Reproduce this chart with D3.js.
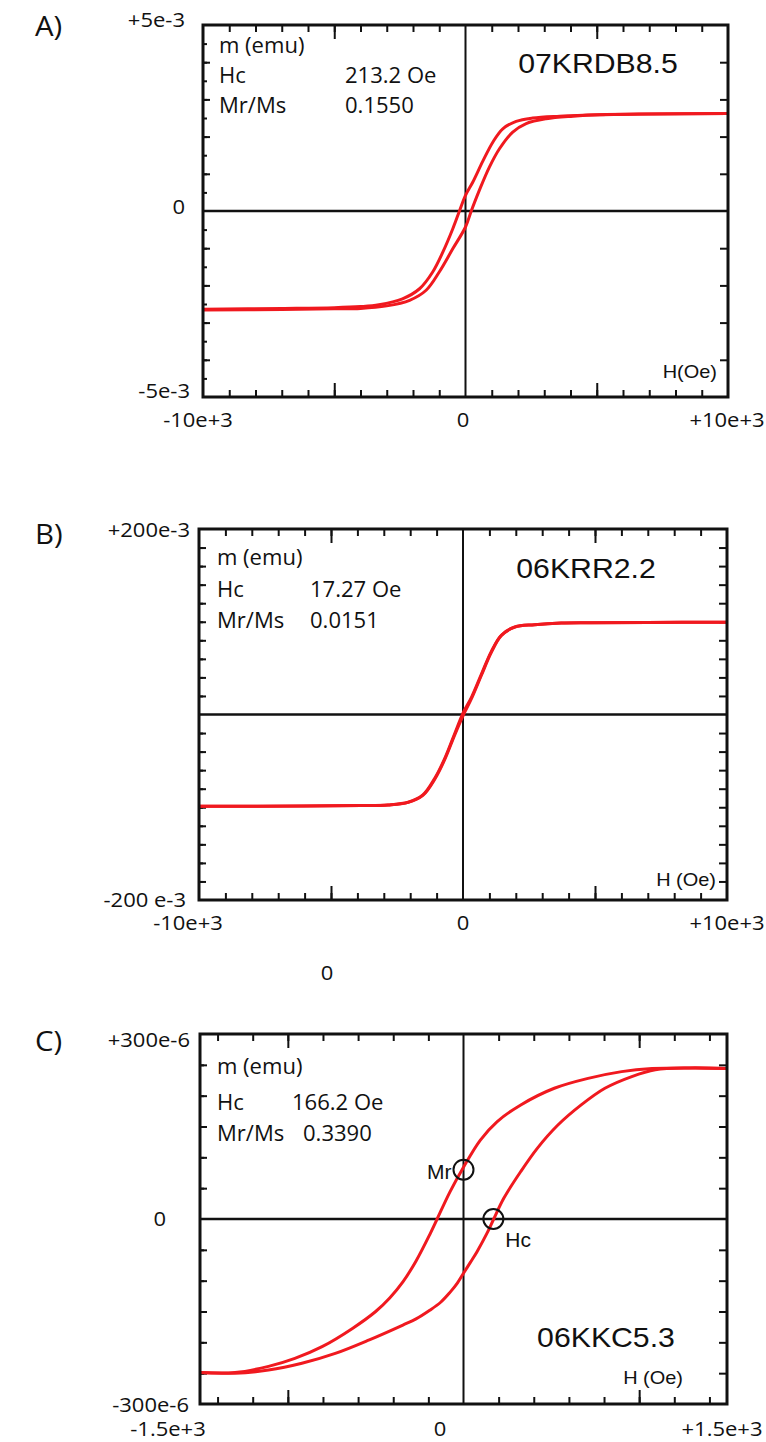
<!DOCTYPE html>
<html>
<head>
<meta charset="utf-8">
<script src="https://cdn.jsdelivr.net/npm/d3@7"></script>
<style>
  body { margin: 0; background: #fff; }
  svg { display: block; }
</style>
</head>
<body>
<div id="chart"></div>
<script>
// ---- data ----
// H in Oe; m in axis units (A, B: 1e-3 emu, C: 1e-6 emu)
var panelLetters = ["A)", "B)", "C)"];
var sampleNames = ["07KRDB8.5", "06KRR2.2", "06KKC5.3"];
var hcTexts = ["213.2 Oe", "17.27 Oe", "166.2 Oe"];
var ratioTexts = ["0.1550", "0.0151", "0.3390"];
var fieldLabels = ["H(Oe)", "H (Oe)", "H (Oe)"];
var yTickLabels = [["+5e-3", "0", "-5e-3"], ["+200e-3", "", "-200 e-3"], ["+300e-6", "0", "-300e-6"]];
var xTickLabels = [["-10e+3", "0", "+10e+3"], ["-10e+3", "0", "+10e+3"], ["-1.5e+3", "0", "+1.5e+3"]];
var hDomains = [[-10000, 10000], [-10000, 10000], [-1500, 1500]];
var mDomains = [[-5, 5], [-200, 200], [-300, 300]];

var aDescending = [[-10000, -2.64], [-7000, -2.62], [-5000, -2.60], [-4000, -2.57], [-3300, -2.52], [-2400, -2.36],
  [-1750, -2.09], [-1250, -1.64], [-860, -1.10], [-480, -0.47], [-230, 0], [0, 0.42], [280, 0.78], [660, 1.34],
  [1040, 1.85], [1420, 2.21], [1930, 2.41], [2560, 2.50], [3580, 2.55], [5100, 2.59], [7000, 2.61], [10000, 2.62]];
var aAscending = [[-10000, -2.66], [-7000, -2.65], [-5000, -2.63], [-4000, -2.62], [-3000, -2.55], [-2130, -2.40],
  [-1500, -2.13], [-1000, -1.64], [-480, -1.01], [0, -0.43], [220, 0], [530, 0.56], [910, 1.18], [1300, 1.68],
  [1800, 2.12], [2310, 2.35], [3070, 2.48], [4090, 2.55], [5100, 2.59], [7000, 2.61], [10000, 2.62]];

var bDescending = [[-10000, -99], [-6000, -98.6], [-3850, -98.2], [-2840, -97.5], [-2080, -94.6], [-1520, -86.7],
  [-1070, -68.8], [-690, -47.3], [-320, -21], [0, 1.5], [320, 18.5], [690, 43], [1070, 67.8], [1450, 85.5],
  [1960, 94.3], [2710, 96.8], [3720, 98.6], [4860, 98.9], [7000, 99.3], [10000, 99.5]];
var bAscending = [[-10000, -99], [-6000, -98.6], [-3850, -98.2], [-2840, -97.5], [-2080, -94.8], [-1520, -87.2],
  [-1070, -69.8], [-690, -48.5], [-320, -22.5], [0, -1.5], [320, 17], [690, 41.8], [1070, 66.8], [1450, 85],
  [1960, 94.2], [2710, 96.8], [3720, 98.6], [4860, 98.9], [7000, 99.3], [10000, 99.5]];

var cDescending = [[-1500, -249], [-1300, -249], [-1110, -239], [-960, -226], [-805, -207], [-630, -177],
  [-500, -150], [-420, -128], [-345, -102], [-270, -68], [-190, -24], [-150, 0], [-77, 44], [0, 84], [96, 128],
  [192, 158], [326, 185], [517, 212], [709, 228], [900, 239], [1073, 244], [1284, 245], [1500, 244]];
var cAscending = [[-1500, -249], [-1300, -250], [-1110, -245], [-920, -234], [-730, -218], [-536, -196],
  [-345, -172], [-270, -162], [-192, -148], [-130, -135], [-77, -119], [-35, -104], [0, -88], [40, -70], [77, -53],
  [134, -23], [172, 0], [230, 34], [326, 77], [421, 115], [536, 152], [670, 185], [805, 212], [958, 231],
  [1092, 242], [1284, 245], [1500, 244]];

var loops = [[aDescending, aAscending], [bDescending, bAscending], [cDescending, cAscending]];
// marked points on panel C: [H, m, label]
var cMarks = [[0, 80, "Mr"], [170, 0, "Hc"]];

// ---- layout ----
var W = 766, H = 1442;
var red = "#f0191f";
var tickFont = "'Open Sans', sans-serif";
var nameFont = "'Liberation Sans', Arial, sans-serif";

var layout = [
  { box: [203, 25, 728, 397], letterY: 36, yLab: [[185, 2], [185, 3], [190, 1]], xLabX: [198, 463, 727], xLabY: 427,
    info: [219, 345, 345, 53, 83, 113], nameX: 598, nameY: 73, fieldY: 378, fieldX: 717 },
  { box: [199, 529, 727, 900], letterY: 544, yLab: [[190, 8], null, [186, 7]], xLabX: [188, 463, 727], xLabY: 930,
    info: [217, 310, 310, 565, 597, 628], nameX: 586, nameY: 578, fieldY: 886, fieldX: 716 },
  { box: [200, 1034, 727, 1404], letterY: 1051, yLab: [[190, 13], [166, 7], [189, 8]], xLabX: [168, 440, 722], xLabY: 1436,
    info: [217, 292, 303, 1074, 1110, 1141], nameX: 606, nameY: 1347, fieldY: 1384, fieldX: 683 }
];

var svg = d3.select("#chart").append("svg")
  .attr("width", W)
  .attr("height", H);

function addText(g, x, y, str, size, family, anchor, sx) {
  return g.append("text")
    .attr("transform", "translate(" + x + "," + y + ") scale(" + (sx || 1) + ",1)")
    .attr("font-family", family)
    .attr("font-size", size + "px")
    .attr("text-anchor", anchor || "start")
    .attr("fill", "#111")
    .text(str);
}

function inwardTicks(g, axisFn, scale, values, len, transform) {
  var ax = g.append("g")
    .attr("transform", transform)
    .call(axisFn(scale).tickValues(values).tickSize(-len).tickFormat(""));
  ax.select(".domain").remove();
  ax.selectAll("line").attr("stroke", "#111").attr("stroke-width", 2);
}

// tick counts passed to scale.ticks() per panel
var tickCounts = [
  { xMinor: 20, xMajor: 4, leftMinor: 20, leftMid: 10, right: 10 },
  { xMinor: 20, xMajor: 4, leftMinor: 20, leftMid: 20, right: 20 },
  { xMinor: 15, xMajor: 3, leftMinor: 12, leftMid: 12, right: 12 }
];

layout.forEach(function(L, i) {
  var b = L.box;
  var T = tickCounts[i];
  var x = d3.scaleLinear().domain(hDomains[i]).range([b[0], b[2]]);
  var y = d3.scaleLinear().domain(mDomains[i]).range([b[3], b[1]]);
  var g = svg.append("g");
  var noEdge = function(s) {
    return function(v) { return v !== s.domain()[0] && v !== s.domain()[1] && v !== 0; };
  };

  // ticks (inward on all four sides)
  var xMinor = x.ticks(T.xMinor).filter(noEdge(x));
  var xMajor = x.ticks(T.xMajor).filter(noEdge(x));
  inwardTicks(g, d3.axisBottom, x, xMinor, 7, "translate(0," + b[3] + ")");
  inwardTicks(g, d3.axisBottom, x, xMajor, 14, "translate(0," + b[3] + ")");
  inwardTicks(g, d3.axisTop, x, xMinor, 7, "translate(0," + b[1] + ")");
  inwardTicks(g, d3.axisTop, x, xMajor, 14, "translate(0," + b[1] + ")");
  inwardTicks(g, d3.axisLeft, y, y.ticks(T.leftMinor).filter(noEdge(y)), 4, "translate(" + b[0] + ",0)");
  inwardTicks(g, d3.axisLeft, y, y.ticks(T.leftMid).filter(noEdge(y)), 7, "translate(" + b[0] + ",0)");
  inwardTicks(g, d3.axisRight, y, y.ticks(T.right).filter(noEdge(y)), 8, "translate(" + b[2] + ",0)");

  // zero lines
  g.append("line")
    .attr("x1", b[0]).attr("x2", b[2])
    .attr("y1", y(0)).attr("y2", y(0))
    .attr("stroke", "#111").attr("stroke-width", 2.5);
  g.append("line")
    .attr("x1", x(0)).attr("x2", x(0))
    .attr("y1", b[1]).attr("y2", b[3])
    .attr("stroke", "#111").attr("stroke-width", 2);

  // hysteresis branches
  var line = d3.line()
    .x(function(d) { return x(d[0]); })
    .y(function(d) { return y(d[1]); })
    .curve(d3.curveCatmullRom.alpha(0.5));
  g.selectAll("path.branch")
    .data(loops[i])
    .enter()
    .append("path")
    .attr("class", "branch")
    .attr("d", line)
    .attr("fill", "none")
    .attr("stroke", red)
    .attr("stroke-width", 3);

  // frame
  g.append("rect")
    .attr("x", b[0]).attr("y", b[1])
    .attr("width", b[2] - b[0]).attr("height", b[3] - b[1])
    .attr("fill", "none")
    .attr("stroke", "#111")
    .attr("stroke-width", 3);

  // y tick labels (top, zero, bottom)
  var yVals = [mDomains[i][1], 0, mDomains[i][0]];
  yTickLabels[i].forEach(function(t, k) {
    if (!t || !L.yLab[k]) return;
    addText(svg, L.yLab[k][0], y(yVals[k]) + L.yLab[k][1], t, 20, tickFont, "end", 1.1);
  });
  // x tick labels
  xTickLabels[i].forEach(function(t, k) {
    addText(svg, L.xLabX[k], L.xLabY, t, 20, tickFont, "middle", 1.1);
  });

  // panel letter
  addText(svg, 35, L.letterY, panelLetters[i], 28, tickFont, "start", 1.05);

  // info block
  addText(svg, L.info[0], L.info[3], "m (emu)", 21, tickFont, "start", 1.05);
  addText(svg, L.info[0], L.info[4], "Hc", 21, tickFont, "start", 1.05);
  addText(svg, L.info[0], L.info[5], "Mr/Ms", 21, tickFont, "start", 1.05);
  addText(svg, L.info[1], L.info[4], hcTexts[i], 21, tickFont, "start", 1.05);
  addText(svg, L.info[2], L.info[5], ratioTexts[i], 21, tickFont, "start", 1.05);

  // sample name and field label
  addText(svg, L.nameX, L.nameY, sampleNames[i], 28, nameFont, "middle", 1.08);
  addText(svg, L.fieldX, L.fieldY, fieldLabels[i], 19, nameFont, "end", 1.05);

  if (i === 2) {
    cMarks.forEach(function(m) {
      g.append("circle")
        .attr("cx", x(m[0])).attr("cy", y(m[1]))
        .attr("r", 10)
        .attr("fill", "none")
        .attr("stroke", "#111")
        .attr("stroke-width", 2);
    });
    addText(svg, x(cMarks[0][0]) - 12, y(cMarks[0][1]) + 9, cMarks[0][2], 20, nameFont, "end", 1.05);
    addText(svg, x(cMarks[1][0]) + 12, y(cMarks[1][1]) + 28, cMarks[1][2], 20, nameFont, "start", 1.05);
  }
});

// stray "0" under panel B
addText(svg, 327, 980, "0", 20, tickFont, "middle", 1.1);
</script>
</body>
</html>
